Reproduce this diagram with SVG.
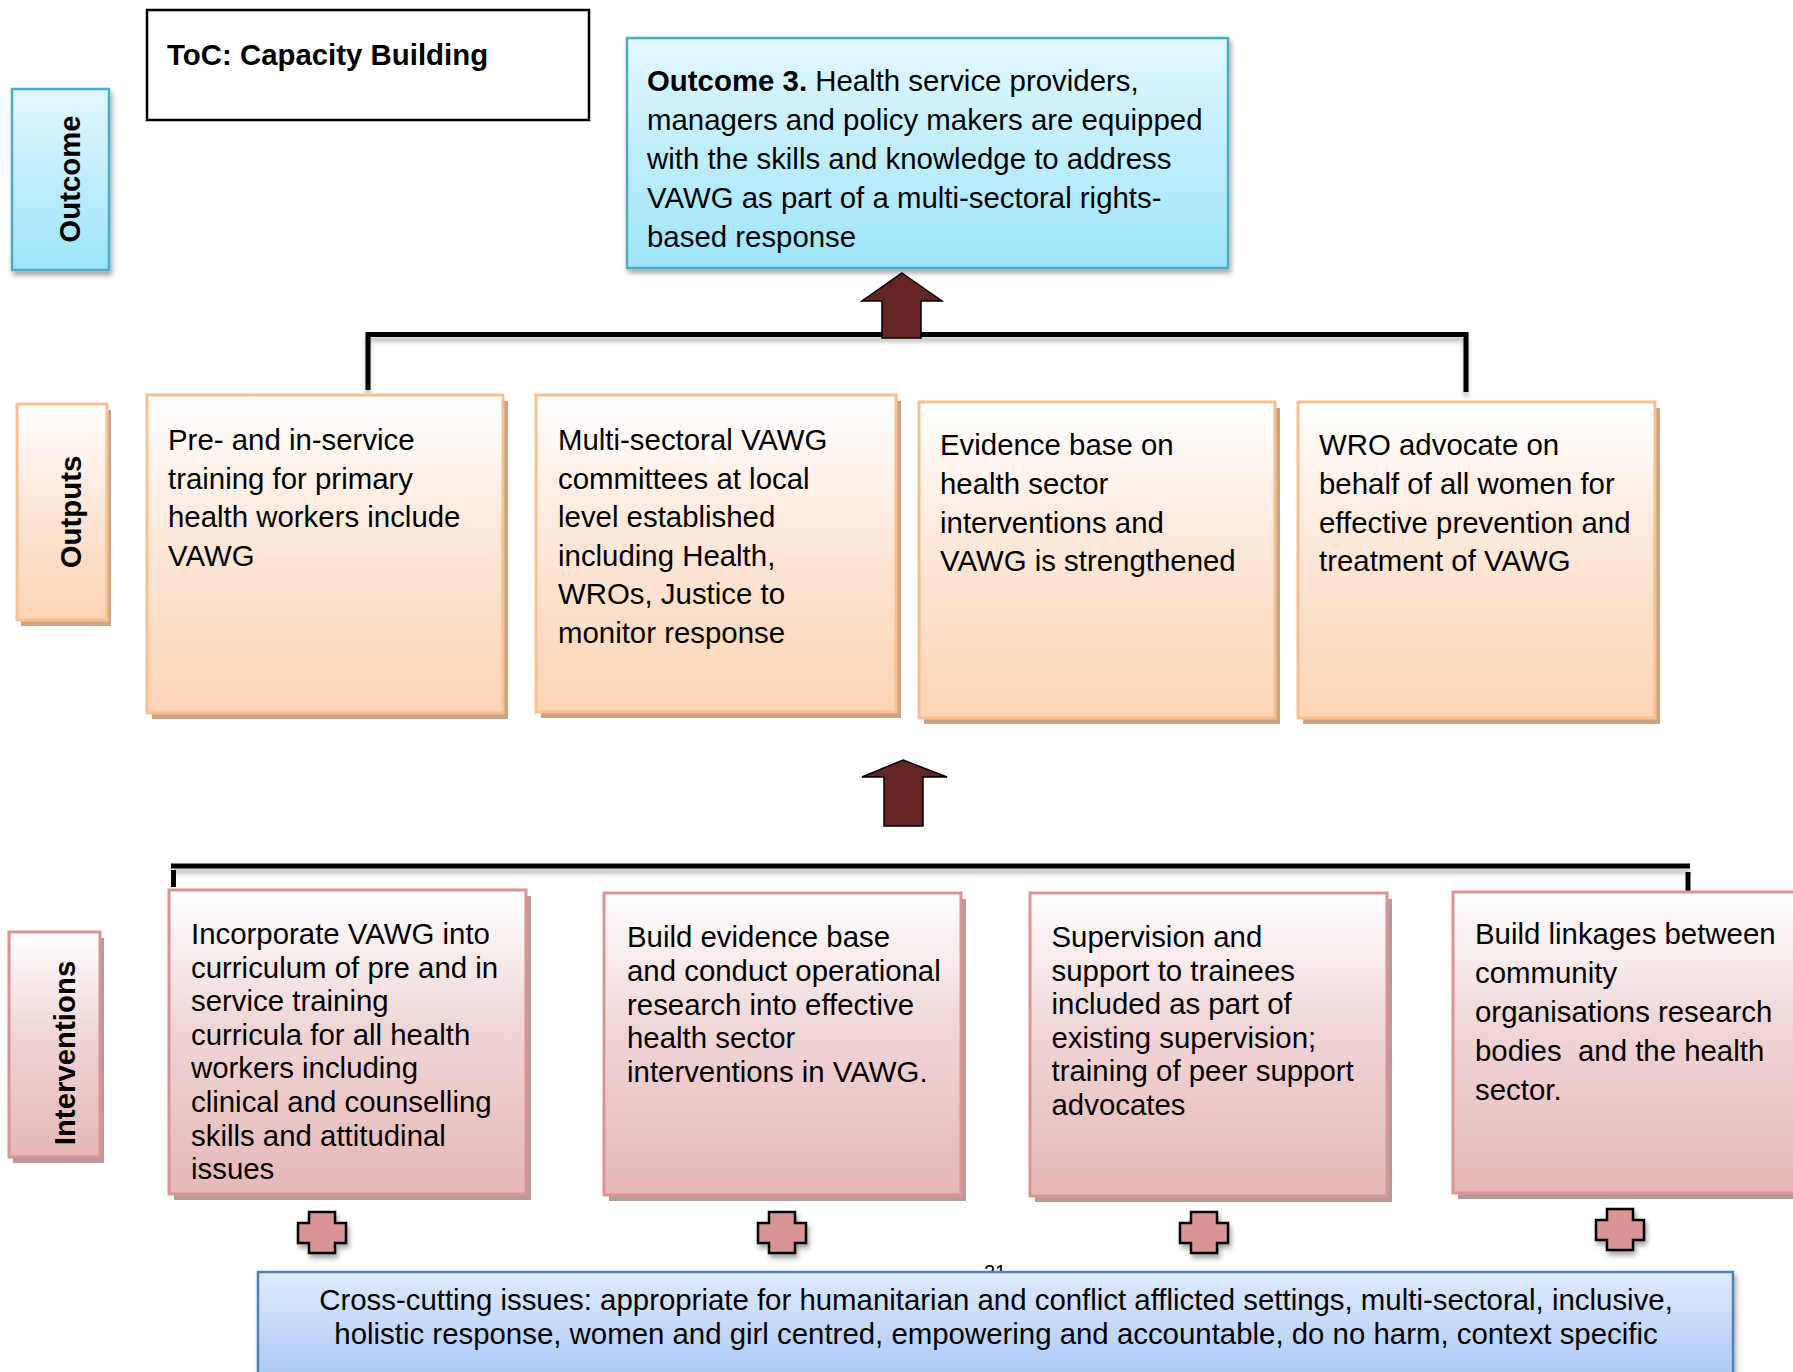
<svg xmlns="http://www.w3.org/2000/svg" xmlns:xlink="http://www.w3.org/1999/xlink" width="1793" height="1372" viewBox="0 0 1793 1372">
<style>
text{font-family:"Liberation Sans",Arial,sans-serif;font-size:29.4px;fill:#000}
.b{font-weight:bold}
.lbl{font-weight:bold;text-anchor:middle}
.cyan{fill:url(#gCyan);stroke:#4bacc6;stroke-width:2.5}
.peach{fill:url(#gPeach);stroke:#fabf8f;stroke-width:3}
.pink{fill:url(#gPink);stroke:#d99594;stroke-width:3}
.pshadow{fill:#c9a586}
.kshadow{fill:#b89a9a}
.conn{stroke:#000;stroke-width:5;fill:none}
.arrow{fill:#632523;stroke:#000;stroke-width:1.5}
.cross{fill:#d99594;stroke:#000;stroke-width:2.5}
</style>
<defs>
<linearGradient id="gCyan" x1="0" y1="0" x2="0" y2="1"><stop offset="0" stop-color="#e2f7fd"/><stop offset="1" stop-color="#9ee5fa"/></linearGradient>
<linearGradient id="gPeach" x1="0" y1="0" x2="0" y2="1"><stop offset="0" stop-color="#ffffff"/><stop offset="0.45" stop-color="#fde8d9"/><stop offset="1" stop-color="#fbd4b4"/></linearGradient>
<linearGradient id="gPink" x1="0" y1="0" x2="0" y2="1"><stop offset="0" stop-color="#ffffff"/><stop offset="0.45" stop-color="#f0d6d6"/><stop offset="1" stop-color="#e5b8b7"/></linearGradient>
<linearGradient id="gBlue" x1="0" y1="0" x2="0" y2="1"><stop offset="0" stop-color="#dfeafc"/><stop offset="1" stop-color="#a6c5f6"/></linearGradient>
<filter id="sh" x="-10%" y="-10%" width="130%" height="150%"><feDropShadow dx="2" dy="4" stdDeviation="2.5" flood-color="#000" flood-opacity="0.35"/></filter>
<filter id="lsh" x="-5%" y="-100%" width="110%" height="400%"><feDropShadow dx="0" dy="5" stdDeviation="2" flood-color="#000" flood-opacity="0.25"/></filter>
<path id="crossShape" d="M-13,0 H13 V11 H24 V31 H13 V41 H-13 V31 H-24 V11 H-13 Z"/>
</defs>

<rect width="1793" height="1372" fill="#fff"/>

<g id="title">
<rect x="147" y="10" width="442" height="110" fill="#fff" stroke="#000" stroke-width="2.5"/>
<text class="b" x="167" y="65">ToC: Capacity Building</text>
</g>

<g id="label-outcome">
<rect class="cyan" x="12" y="89" width="97" height="181" filter="url(#sh)"/>
<text class="lbl" transform="translate(79.5,179) rotate(-90)">Outcome</text>
</g>
<g id="label-outputs">
<rect class="pshadow" x="21" y="410" width="90" height="216"/>
<rect class="peach" x="17" y="404" width="90" height="216"/>
<text class="lbl" transform="translate(81,512) rotate(-90)">Outputs</text>
</g>
<g id="label-interventions">
<rect class="kshadow" x="13" y="938" width="91" height="225"/>
<rect class="pink" x="9" y="932" width="91" height="225"/>
<text class="lbl" transform="translate(75,1053) rotate(-90)">Interventions</text>
</g>

<g id="outcome3">
<rect class="cyan" x="627" y="38" width="601" height="230" filter="url(#sh)"/>
<text x="647" y="90.5"><tspan class="b">Outcome 3.</tspan> Health service providers,</text>
<text x="647" y="129.5">managers and policy makers are equipped</text>
<text x="647" y="168.5">with the skills and knowledge to address</text>
<text x="647" y="207.5">VAWG as part of a multi-sectoral rights-</text>
<text x="647" y="246.5">based response</text>
</g>

<g id="connectors">
<g filter="url(#lsh)">
<path class="conn" d="M368,390 V334.5 H1466 V392"/>
<path class="conn" d="M171,866 H1690"/>
</g>
<path class="conn" d="M173.5,870 V887"/>
<path class="conn" d="M1688,872 V891"/>
<polygon class="arrow" points="902,273 942,301 921,301 921,338 882,338 882,301 862,301"/>
<polygon class="arrow" points="903,760 947,777 923,777 923,826 884,826 884,777 862,777"/>
</g>

<g id="output1">
<rect class="pshadow" x="152" y="401" width="356" height="318"/>
<rect class="peach" x="147" y="395" width="356" height="318"/>
<text x="168" y="450">Pre- and in-service</text>
<text x="168" y="488.5">training for primary</text>
<text x="168" y="527">health workers include</text>
<text x="168" y="565.5">VAWG</text>
</g>
<g id="output2">
<rect class="pshadow" x="541" y="401" width="360" height="317"/>
<rect class="peach" x="536" y="395" width="360" height="317"/>
<text x="558" y="450">Multi-sectoral VAWG</text>
<text x="558" y="488.5">committees at local</text>
<text x="558" y="527">level established</text>
<text x="558" y="565.5">including Health,</text>
<text x="558" y="604">WROs, Justice to</text>
<text x="558" y="642.5">monitor response</text>
</g>
<g id="output3">
<rect class="pshadow" x="924" y="408" width="356" height="316"/>
<rect class="peach" x="919" y="402" width="356" height="316"/>
<text x="940" y="455">Evidence base on</text>
<text x="940" y="494">health sector</text>
<text x="940" y="532.5">interventions and</text>
<text x="940" y="571">VAWG is strengthened</text>
</g>
<g id="output4">
<rect class="pshadow" x="1303" y="408" width="357" height="316"/>
<rect class="peach" x="1298" y="402" width="357" height="316"/>
<text x="1319" y="455">WRO advocate on</text>
<text x="1319" y="494">behalf of all women for</text>
<text x="1319" y="532.5">effective prevention and</text>
<text x="1319" y="571">treatment of VAWG</text>
</g>

<g id="intervention1">
<rect class="kshadow" x="174" y="896" width="357" height="304"/>
<rect class="pink" x="169" y="890" width="357" height="304"/>
<text x="191" y="944">Incorporate VAWG into</text>
<text x="191" y="977.6">curriculum of pre and in</text>
<text x="191" y="1011.2">service training</text>
<text x="191" y="1044.8">curricula for all health</text>
<text x="191" y="1078.4">workers including</text>
<text x="191" y="1112">clinical and counselling</text>
<text x="191" y="1145.6">skills and attitudinal</text>
<text x="191" y="1179.2">issues</text>
</g>
<g id="intervention2">
<rect class="kshadow" x="609" y="899" width="357" height="302"/>
<rect class="pink" x="604" y="893" width="357" height="302"/>
<text x="627" y="947">Build evidence base</text>
<text x="627" y="980.8">and conduct operational</text>
<text x="627" y="1014.6">research into effective</text>
<text x="627" y="1048.4">health sector</text>
<text x="627" y="1082.2">interventions in VAWG.</text>
</g>
<g id="intervention3">
<rect class="kshadow" x="1035" y="899" width="357" height="303"/>
<rect class="pink" x="1030" y="893" width="357" height="303"/>
<text x="1051.5" y="947">Supervision and</text>
<text x="1051.5" y="980.6">support to trainees</text>
<text x="1051.5" y="1014.2">included as part of</text>
<text x="1051.5" y="1047.8">existing supervision;</text>
<text x="1051.5" y="1081.4">training of peer support</text>
<text x="1051.5" y="1115">advocates</text>
</g>
<g id="intervention4">
<rect class="kshadow" x="1458" y="898" width="357" height="301"/>
<rect class="pink" x="1453" y="892" width="357" height="301"/>
<text x="1475" y="944">Build linkages between</text>
<text x="1475" y="983">community</text>
<text x="1475" y="1022">organisations research</text>
<text x="1475" y="1061" xml:space="preserve">bodies  and the health</text>
<text x="1475" y="1100">sector.</text>
</g>

<g id="crosses">
<use xlink:href="#crossShape" class="cross" x="322" y="1212" filter="url(#sh)"/>
<use xlink:href="#crossShape" class="cross" x="782" y="1212" filter="url(#sh)"/>
<use xlink:href="#crossShape" class="cross" x="1204" y="1212" filter="url(#sh)"/>
<use xlink:href="#crossShape" class="cross" x="1620" y="1209" filter="url(#sh)"/>
</g>

<g id="pagenum">
<text x="995" y="1279" style="font-size:20px;text-anchor:middle">21</text>
</g>

<g id="crosscutting">
<rect x="258" y="1272" width="1475" height="120" fill="url(#gBlue)" stroke="#4f81bd" stroke-width="2.5" filter="url(#sh)"/>
<text x="996" y="1310" text-anchor="middle">Cross-cutting issues: appropriate for humanitarian and conflict afflicted settings, multi-sectoral, inclusive,</text>
<text x="996" y="1344" text-anchor="middle">holistic response, women and girl centred, empowering and accountable, do no harm, context specific</text>
</g>
</svg>
